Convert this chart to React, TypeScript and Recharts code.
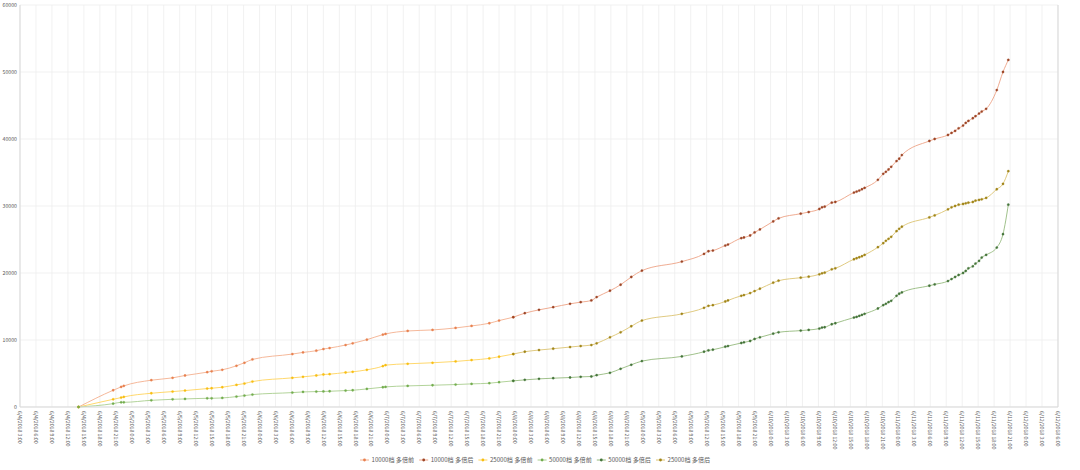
import { CartesianGrid, Line, LineChart, XAxis, YAxis } from 'recharts'

// axis labels, every 3 hours
const tickLabels = [
  '6/4/2018 3:00', '6/4/2018 6:00', '6/4/2018 9:00', '6/4/2018 12:00', '6/4/2018 15:00', '6/4/2018 18:00', '6/4/2018 21:00',
  '6/5/2018 0:00', '6/5/2018 3:00', '6/5/2018 6:00', '6/5/2018 9:00', '6/5/2018 12:00', '6/5/2018 15:00', '6/5/2018 18:00', '6/5/2018 21:00',
  '6/6/2018 0:00', '6/6/2018 3:00', '6/6/2018 6:00', '6/6/2018 9:00', '6/6/2018 12:00', '6/6/2018 15:00', '6/6/2018 18:00', '6/6/2018 21:00',
  '6/7/2018 0:00', '6/7/2018 3:00', '6/7/2018 6:00', '6/7/2018 9:00', '6/7/2018 12:00', '6/7/2018 15:00', '6/7/2018 18:00', '6/7/2018 21:00',
  '6/8/2018 0:00', '6/8/2018 3:00', '6/8/2018 6:00', '6/8/2018 9:00', '6/8/2018 12:00', '6/8/2018 15:00', '6/8/2018 18:00', '6/8/2018 21:00',
  '6/9/2018 0:00', '6/9/2018 3:00', '6/9/2018 6:00', '6/9/2018 9:00', '6/9/2018 12:00', '6/9/2018 15:00', '6/9/2018 18:00', '6/9/2018 21:00',
  '6/10/2018 0:00', '6/10/2018 3:00', '6/10/2018 6:00', '6/10/2018 9:00', '6/10/2018 12:00', '6/10/2018 15:00', '6/10/2018 18:00', '6/10/2018 21:00',
  '6/11/2018 0:00', '6/11/2018 3:00', '6/11/2018 6:00', '6/11/2018 9:00', '6/11/2018 12:00', '6/11/2018 15:00', '6/11/2018 18:00', '6/11/2018 21:00',
  '6/12/2018 0:00', '6/12/2018 3:00', '6/12/2018 6:00',
]

// sample times
const times = [
  '6/4/2018 14:00', '6/4/2018 20:30', '6/4/2018 22:00', '6/4/2018 22:30',
  '6/5/2018 3:40', '6/5/2018 7:40', '6/5/2018 10:00', '6/5/2018 14:10', '6/5/2018 15:00', '6/5/2018 17:00', '6/5/2018 19:40', '6/5/2018 21:10', '6/5/2018 22:40',
  '6/6/2018 6:10', '6/6/2018 8:10', '6/6/2018 10:40', '6/6/2018 12:00', '6/6/2018 13:10', '6/6/2018 16:10', '6/6/2018 17:30', '6/6/2018 20:10', '6/6/2018 23:10', '6/6/2018 23:40',
  '6/7/2018 3:50', '6/7/2018 8:30', '6/7/2018 12:50', '6/7/2018 15:50', '6/7/2018 19:10', '6/7/2018 21:00', '6/7/2018 23:40',
  '6/8/2018 1:50', '6/8/2018 4:30', '6/8/2018 7:10', '6/8/2018 10:20', '6/8/2018 12:20', '6/8/2018 14:20', '6/8/2018 15:20', '6/8/2018 17:50', '6/8/2018 19:50', '6/8/2018 21:50', '6/8/2018 23:50',
  '6/9/2018 7:20', '6/9/2018 11:30', '6/9/2018 12:20', '6/9/2018 13:10', '6/9/2018 15:30', '6/9/2018 16:00', '6/9/2018 18:30', '6/9/2018 19:00', '6/9/2018 20:10', '6/9/2018 21:00', '6/9/2018 22:00',
  '6/10/2018 0:30', '6/10/2018 1:30', '6/10/2018 5:40', '6/10/2018 7:10', '6/10/2018 9:10', '6/10/2018 9:40', '6/10/2018 10:10', '6/10/2018 11:30', '6/10/2018 12:10', '6/10/2018 15:40',
  '6/10/2018 16:10', '6/10/2018 16:40', '6/10/2018 17:10', '6/10/2018 17:40', '6/10/2018 20:10', '6/10/2018 21:10', '6/10/2018 21:40', '6/10/2018 22:10', '6/10/2018 22:40', '6/10/2018 23:40',
  '6/11/2018 0:10', '6/11/2018 0:40', '6/11/2018 5:50', '6/11/2018 6:50', '6/11/2018 9:20', '6/11/2018 10:00', '6/11/2018 10:40', '6/11/2018 11:20', '6/11/2018 12:10', '6/11/2018 12:40',
  '6/11/2018 13:10', '6/11/2018 14:00', '6/11/2018 14:30', '6/11/2018 15:10', '6/11/2018 15:40', '6/11/2018 16:30', '6/11/2018 18:30', '6/11/2018 19:40', '6/11/2018 20:40',
]

const tier10000 = [
  0, 2500, 3000, 3150,
  4000, 4350, 4700, 5200, 5330, 5550, 6150, 6600, 7100,
  7900, 8150, 8400, 8650, 8800, 9250, 9500, 10050, 10800, 10900,
  11350, 11500, 11800, 12100, 12500, 12900, 13400,
  14000, 14500, 14900, 15400, 15650, 15900, 16400, 17350, 18250, 19400, 20350,
  21700, 22850, 23250, 23350, 24100, 24250, 25200, 25300, 25600, 26050, 26500,
  27700, 28150, 28850, 29100, 29550, 29800, 29900, 30500, 30600, 32000,
  32150, 32300, 32500, 32700, 33900, 34800, 35100, 35450, 35850, 36700,
  37050, 37600, 39700, 40000, 40600, 40900, 41200, 41600, 42000, 42400,
  42700, 43100, 43400, 43800, 44100, 44500, 47300, 50000, 51800,
]

const tier25000 = [
  0, 1150, 1400, 1500,
  2050, 2300, 2450, 2750, 2800, 2950, 3300, 3500, 3800,
  4350, 4500, 4700, 4850, 4900, 5150, 5250, 5550, 6100, 6250,
  6450, 6600, 6800, 7000, 7250, 7500, 7900,
  8250, 8500, 8700, 8950, 9100, 9250, 9500, 10400, 11150, 12050, 12900,
  13900, 14800, 15100, 15200, 15750, 15900, 16600, 16700, 17000, 17300, 17650,
  18550, 18850, 19300, 19450, 19800, 19950, 20050, 20550, 20700, 22050,
  22200, 22350, 22500, 22700, 23850, 24450, 24800, 25100, 25400, 26250,
  26600, 26900, 28300, 28600, 29500, 29800, 30000, 30200, 30300, 30400,
  30500, 30600, 30800, 30900, 31000, 31200, 32500, 33300, 35200,
]

const tier50000 = [
  0, 500, 700, 700,
  1000, 1150, 1200, 1300, 1300, 1350, 1550, 1700, 1850,
  2150, 2250, 2300, 2320, 2350, 2450, 2500, 2700, 2950, 3000,
  3150, 3250, 3350, 3450, 3550, 3700, 3900,
  4050, 4200, 4300, 4400, 4500, 4550, 4750, 5100, 5700, 6300, 6850,
  7550, 8250, 8450, 8550, 9000, 9100, 9550, 9650, 9850, 10150, 10400,
  10950, 11150, 11400, 11500, 11700, 11850, 11900, 12350, 12500, 13350,
  13450, 13600, 13750, 13900, 14700, 15200, 15400, 15650, 15850, 16600,
  16900, 17100, 18100, 18300, 18800, 19100, 19400, 19700, 20000, 20300,
  20700, 21000, 21400, 21800, 22300, 22700, 23800, 25800, 30200,
]

// first sample counted as "多倍后"
const switchAt = '6/7/2018 23:40'

const yTicks = [0, 10000, 20000, 30000, 40000, 50000, 60000]

const series = [
  { key: 'pre10000', name: '10000档 多倍前', stroke: '#F4B08E', dot: '#E8804F' },
  { key: 'post10000', name: '10000档 多倍后', stroke: '#EDA386', dot: '#9C4526' },
  { key: 'pre25000', name: '25000档 多倍前', stroke: '#FFD45C', dot: '#F7BE12' },
  { key: 'pre50000', name: '50000档 多倍前', stroke: '#A9CE8E', dot: '#72AC4D' },
  { key: 'post50000', name: '50000档 多倍后', stroke: '#95BA7E', dot: '#44743A' },
  { key: 'post25000', name: '25000档 多倍后', stroke: '#DDC473', dot: '#A08418' },
]

function toTime(s: string) {
  const [date, clock] = s.split(' ')
  const [m, d, y] = date.split('/').map(Number)
  const [h, min] = clock.split(':').map(Number)
  return Date.UTC(y, m - 1, d, h, min)
}

const tickValues = tickLabels.map(toTime)
const labelByTime = new Map(tickValues.map((t, i) => [t, tickLabels[i]]))
const switchIdx = times.indexOf(switchAt)

const rows = times.map((s, i) => {
  const pre = i <= switchIdx
  const post = i >= switchIdx
  return {
    t: toTime(s),
    pre10000: pre ? tier10000[i] : null,
    post10000: post ? tier10000[i] : null,
    pre25000: pre ? tier25000[i] : null,
    post25000: post ? tier25000[i] : null,
    pre50000: pre ? tier50000[i] : null,
    post50000: post ? tier50000[i] : null,
  }
})

const font = '"Noto Sans CJK SC", "Noto Sans", sans-serif'
const grey = '#595959'

function TimeTick(props: any) {
  const { x, y, payload } = props
  return (
    <g transform={`translate(${x},${y})`}>
      <text transform="rotate(90)" x={0} y={0} dy="0.35em" textAnchor="start" fontSize={5.2} fill={grey} fontFamily={font}>
        {labelByTime.get(payload.value)}
      </text>
    </g>
  )
}

function LegendRow() {
  return (
    <svg width={1080} height={20} style={{ position: 'absolute', left: 0, top: 450 }}>
      {series.map((s, i) => {
        const x0 = 360 + i * 59.2
        return (
          <g key={s.key}>
            <line x1={x0} x2={x0 + 9} y1={10} y2={10} stroke={s.stroke} strokeWidth={1} />
            <circle cx={x0 + 4.5} cy={10} r={1.4} fill={s.dot} />
            <text x={x0 + 11.5} y={10} dy="0.35em" fontSize={6.1} fill={grey} fontFamily={font}>
              {s.name}
            </text>
          </g>
        )
      })}
    </svg>
  )
}

export default function App() {
  return (
    <div style={{ position: 'absolute', left: 0, top: 0, width: 1080, height: 470, background: '#fff' }}>
      <LineChart width={1080} height={470} data={rows} margin={{ top: 5, right: 0, bottom: 0, left: 0 }}>
        <CartesianGrid yAxisId="left" stroke="#EDEDED" strokeWidth={0.8} />
        <XAxis
          dataKey="t"
          type="number"
          domain={[tickValues[0], tickValues[tickValues.length - 1]]}
          ticks={tickValues}
          interval={0}
          height={63}
          tick={TimeTick}
          tickLine={false}
          tickSize={0}
          tickMargin={4}
          axisLine={{ stroke: '#D9D9D9' }}
        />
        <YAxis
          yAxisId="left"
          width={20}
          domain={[0, 60000]}
          ticks={yTicks}
          tickLine={false}
          tickSize={0}
          tickMargin={3}
          axisLine={{ stroke: '#D9D9D9' }}
          tick={{ fontSize: 5.2, fill: grey, fontFamily: font }}
        />
        <YAxis
          yAxisId="right"
          orientation="right"
          width={22}
          domain={[0, 60000]}
          ticks={yTicks}
          tickLine={false}
          tickSize={0}
          tickMargin={5}
          axisLine={{ stroke: '#D9D9D9' }}
          tick={{ fontSize: 5.2, fill: grey, fontFamily: font }}
        />
        {series.map((s) => (
          <Line
            key={s.key}
            yAxisId="left"
            type="monotone"
            dataKey={s.key}
            name={s.name}
            stroke={s.stroke}
            strokeWidth={0.9}
            dot={{ r: 1.15, fill: s.dot, stroke: s.dot, strokeWidth: 0.3 }}
            activeDot={false}
            isAnimationActive={false}
          />
        ))}
      </LineChart>
      <LegendRow />
    </div>
  )
}
